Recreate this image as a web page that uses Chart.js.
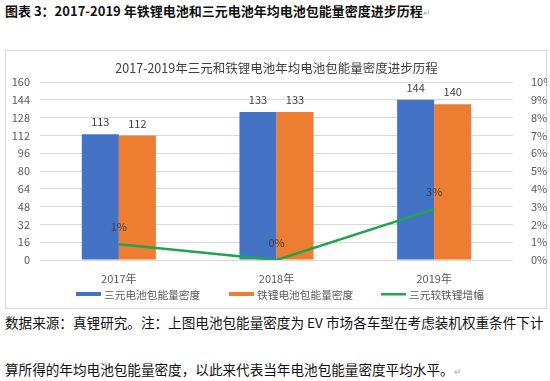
<!DOCTYPE html>
<html><head><meta charset="utf-8">
<script src="https://cdn.jsdelivr.net/npm/chart.js@4/dist/chart.umd.min.js"></script>
<style>
html,body{margin:0;padding:0;background:#fff;width:550px;height:381px;overflow:hidden;font-family:"Noto Sans CJK SC","Noto Sans",sans-serif;}
.t{position:absolute;white-space:nowrap;color:#111;}
#head{left:5px;top:1px;font-size:13px;font-weight:bold;}
#n1{left:5px;top:312px;font-size:13.6px;}
#n2{left:5px;top:359px;font-size:13.6px;}
.pm{color:#aaa;font-size:9px;font-weight:normal;}
#box{position:absolute;left:5px;top:50px;width:542px;height:259px;box-sizing:border-box;border:1px solid #d9d9d9;}
#box canvas{position:absolute;left:-1px;top:-1px;}
</style></head><body>
<div class="t" id="head">图表 3：2017-2019 年铁锂电池和三元电池年均电池包能量密度进步历程<span class="pm">↵</span></div>
<div id="box"><canvas id="c" width="542" height="259"></canvas></div>
<div class="t" id="n1">数据来源：真锂研究。注：上图电池包能量密度为 EV 市场各车型在考虑装机权重条件下计</div>
<div class="t" id="n2">算所得的年均电池包能量密度，以此来代表当年电池包能量密度平均水平。<span class="pm">↵</span></div>
<script>
const categories = ["2017年", "2018年", "2019年"];
const ternaryDensity = [113, 133, 144];
const lfpDensity = [112, 133, 140];
const ternaryOverLfp = [0.89, 0, 2.86];
const lineLabels = ["1%", "0%", "3%"];
const chartTitle = "2017-2019年三元和铁锂电池年均电池包能量密度进步历程";
const seriesNames = ["三元电池包能量密度", "铁锂电池包能量密度", "三元较铁锂增幅"];

const FONT = '"Noto Sans CJK SC","Noto Sans",sans-serif';
const colors = ["#4472C4", "#ED7D31", "#1DA64E"];

const deco = {
  id: "deco",
  afterDatasetsDraw(chart) {
    const ctx = chart.ctx;
    const ca = chart.chartArea;
    ctx.save();
    ctx.fillStyle = "#404040";
    ctx.font = "12.5px " + FONT;
    ctx.textAlign = "center";
    ctx.textBaseline = "middle";
    ctx.fillText(chartTitle, (ca.left + ca.right) / 2, 18);
    ctx.font = "11px " + FONT;
    [0, 1].forEach(di => {
      const meta = chart.getDatasetMeta(di);
      meta.data.forEach((el, i) => {
        ctx.fillText(String(chart.data.datasets[di].data[i]), el.x, el.y - 12);
      });
    });
    const lm = chart.getDatasetMeta(2);
    lm.data.forEach((el, i) => {
      ctx.fillText(lineLabels[i], el.x, el.y - 17);
    });
    ctx.font = "10.7px " + FONT;
    ctx.textAlign = "left";
    const starts = [71, 224, 376];
    seriesNames.forEach((n, i) => {
      ctx.fillStyle = colors[i];
      if (i < 2) ctx.fillRect(starts[i], 242, 25, 4);
      else ctx.fillRect(starts[i], 243, 25, 2.5);
      ctx.fillStyle = "#595959";
      ctx.fillText(n, starts[i] + 28, 245);
    });
    ctx.restore();
  }
};

new Chart(document.getElementById("c"), {
  data: {
    labels: categories,
    datasets: [
      { type: "bar", label: seriesNames[0], data: ternaryDensity, backgroundColor: colors[0], yAxisID: "y", order: 2,
        barPercentage: 1, categoryPercentage: 0.47 },
      { type: "bar", label: seriesNames[1], data: lfpDensity, backgroundColor: colors[1], yAxisID: "y", order: 2,
        barPercentage: 1, categoryPercentage: 0.47 },
      { type: "line", label: seriesNames[2], data: ternaryOverLfp, borderColor: colors[2], backgroundColor: colors[2],
        borderWidth: 2.5, pointRadius: 0, tension: 0, yAxisID: "y1", order: 1 }
    ]
  },
  options: {
    responsive: false,
    animation: false,
    layout: { padding: { top: 32, bottom: 0, left: 0, right: 0 } },
    plugins: { legend: { display: false }, title: { display: false }, tooltip: { enabled: false } },
    scales: {
      x: {
        grid: { display: false },
        border: { display: false },
        ticks: { color: "#595959", font: { size: 11, family: FONT }, padding: 4 },
        afterFit(s) { s.height = 49; }
      },
      y: {
        position: "left", min: 0, max: 160,
        grid: { color: "#d9d9d9", drawTicks: false, lineWidth: 1 },
        border: { display: false },
        ticks: { stepSize: 16, color: "#595959", font: { size: 11, family: FONT }, padding: 10 },
        afterFit(s) { s.width = 35; }
      },
      y1: {
        position: "right", min: 0, max: 10,
        grid: { display: false },
        border: { display: false },
        ticks: { stepSize: 1, color: "#595959", font: { size: 11, family: FONT }, padding: 10,
          callback: v => v + "%" },
        afterFit(s) { s.width = 34; }
      }
    }
  },
  plugins: [deco]
});
</script>
</body></html>
